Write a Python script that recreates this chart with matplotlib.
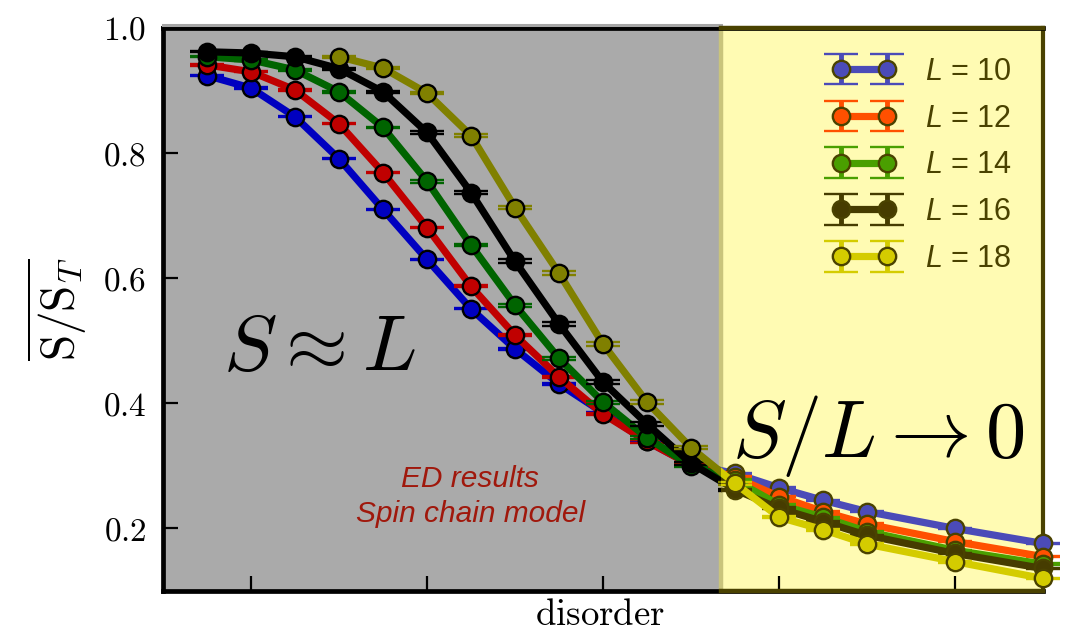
import matplotlib
matplotlib.use("Agg")
import matplotlib.pyplot as plt
from matplotlib.patches import Rectangle

# Sans italic for the legend's "L", Computer Modern requested per text where needed
plt.rcParams['mathtext.fontset'] = 'custom'
plt.rcParams['mathtext.it'] = 'Liberation Sans:italic'
plt.rcParams['mathtext.rm'] = 'Liberation Sans'
plt.rcParams['font.family'] = ['Liberation Sans', 'DejaVu Sans']

# ---- data -------------------------------------------------------------
disorder = [0.75, 1.0, 1.25, 1.5, 1.75, 2.0, 2.25, 2.5, 2.75, 3.0, 3.25, 3.5,
            3.75, 4.0, 4.25, 4.5, 5.0, 5.5]
disorder_L18 = [1.5, 1.75, 2.0, 2.25, 2.5, 2.75, 3.0, 3.25, 3.5,
                3.75, 4.0, 4.25, 4.5, 5.0, 5.5]

system_sizes = [10, 12, 14, 16, 18]

s_L10 = [0.924, 0.904, 0.858, 0.791, 0.710, 0.630, 0.551, 0.487, 0.431, 0.385,
         0.339, 0.302, 0.288, 0.265, 0.245, 0.227, 0.200, 0.176]
s_L12 = [0.941, 0.930, 0.901, 0.847, 0.769, 0.681, 0.587, 0.509, 0.442, 0.383,
         0.339, 0.301, 0.282, 0.251, 0.227, 0.207, 0.179, 0.155]
s_L14 = [0.954, 0.949, 0.933, 0.898, 0.841, 0.755, 0.653, 0.557, 0.472, 0.402,
         0.345, 0.300, 0.277, 0.238, 0.218, 0.195, 0.165, 0.143]
s_L16 = [0.962, 0.960, 0.954, 0.935, 0.898, 0.833, 0.737, 0.627, 0.527, 0.434,
         0.367, 0.304, 0.262, 0.232, 0.211, 0.189, 0.160, 0.136]
s_L18 = [0.954, 0.936, 0.896, 0.828, 0.713, 0.608, 0.495, 0.402, 0.329,
         0.272, 0.218, 0.198, 0.175, 0.147, 0.120]

err_L10 = [0.001, 0.001, 0.001, 0.001, 0.001, 0.001, 0.001, 0.0015, 0.0015, 0.0015,
           0.0015, 0.0015, 0.001, 0.001, 0.001, 0.001, 0.001, 0.001]
err_L12 = [0.001, 0.001, 0.001, 0.001, 0.001, 0.0015, 0.0015, 0.002, 0.002, 0.002,
           0.002, 0.0015, 0.0015, 0.001, 0.001, 0.001, 0.001, 0.001]
err_L14 = [0.001, 0.001, 0.001, 0.0015, 0.0015, 0.002, 0.002, 0.0025, 0.0025, 0.0025,
           0.002, 0.002, 0.0015, 0.0015, 0.001, 0.001, 0.001, 0.001]
err_L16 = [0.001, 0.001, 0.001, 0.0015, 0.002, 0.002, 0.0025, 0.003, 0.003, 0.003,
           0.0025, 0.002, 0.0015, 0.0015, 0.0015, 0.001, 0.001, 0.001]
err_L18 = [0.0015, 0.0015, 0.002, 0.0025, 0.003, 0.0035, 0.0035, 0.003, 0.0025,
           0.002, 0.0015, 0.0015, 0.0015, 0.0015, 0.0015]

series = [
    (disorder, s_L10, err_L10),
    (disorder, s_L12, err_L12),
    (disorder, s_L14, err_L14),
    (disorder, s_L16, err_L16),
    (disorder_L18, s_L18, err_L18),
]

yticks = [0.2, 0.4, 0.6, 0.8, 1.0]
ytick_labels = [r'$0.2$', r'$0.4$', r'$0.6$', r'$0.8$', r'$1.0$']
xticks = [1, 2, 3, 4, 5]

# ---- styling ----------------------------------------------------------
X_MIN, X_MAX = 0.5, 5.5
Y_MIN, Y_MAX = 0.1, 1.0
REGION_SPLIT = 3.67          # gray (thermal) | yellow (localized) panels

gray_bg = '#AAAAAA'
yellow_bg = '#FFFBB3'
olive_dark = '#4A4200'
left_colors = ['#0000C0', '#C00000', '#006400', '#000000', '#808000']
right_colors = ['#4B4BB8', '#FF5000', '#4A9F00', '#463C00', '#D4CC00']
text_red = '#A0180C'

fig = plt.figure(figsize=(10.77, 6.35), dpi=100)
ax = fig.add_axes([163 / 1077, 1 - 591 / 635, 880 / 1077, 563 / 635])
ax.set_xlim(X_MIN, X_MAX)
ax.set_ylim(Y_MIN, Y_MAX)
ax.set_facecolor(gray_bg)
ax.axvspan(REGION_SPLIT, X_MAX, color=yellow_bg, zorder=0.5, lw=0)
ax.axvline(REGION_SPLIT, color='#C9C47C', lw=3.2, zorder=0.6)

clip_left = Rectangle((X_MIN, -1), REGION_SPLIT - X_MIN, 3, transform=ax.transData)
clip_right = Rectangle((REGION_SPLIT, -1), X_MAX - REGION_SPLIT + 1, 3,
                       transform=ax.transData)


def clip_container(container, rect):
    data_line, caps, bars = container.lines
    for art in [data_line, *caps, *bars]:
        art.set_clip_path(rect)


handles = []
for i, (xs, ys, es) in enumerate(series):
    c_left = ax.errorbar(xs, ys, yerr=es, color=left_colors[i], lw=5.2,
                         marker='o', ms=12.5, mfc=left_colors[i], mec='black',
                         mew=1.7, capsize=12, capthick=1.7, elinewidth=3.5,
                         zorder=3 + i)
    clip_container(c_left, clip_left)
    c_right = ax.errorbar(xs, ys, yerr=es, color=right_colors[i], lw=5.2,
                          marker='o', ms=12.5, mfc=right_colors[i], mec=olive_dark,
                          mew=1.7, capsize=12, capthick=1.7, elinewidth=3.5,
                          zorder=3 + i, label=f'$L$ = {system_sizes[i]}')
    clip_container(c_right, clip_right)
    handles.append(c_right)

leg = ax.legend(handles=handles, loc='upper right', bbox_to_anchor=(0.965, 0.949),
                frameon=False, numpoints=2, fontsize=22, handlelength=2.1,
                handletextpad=0.95, labelspacing=0.55, borderpad=0,
                borderaxespad=0)
for t in leg.get_texts():
    t.set_color(olive_dark)

# ---- axes frame and ticks --------------------------------------------
for side in ['left', 'bottom', 'top']:
    ax.spines[side].set_linewidth(3.4)
    ax.spines[side].set_color('black')
ax.spines['right'].set_linewidth(3.0)
ax.spines['right'].set_color(olive_dark)
frac = (REGION_SPLIT - X_MIN) / (X_MAX - X_MIN)
for yy in (Y_MIN, Y_MAX):
    ax.axhline(yy, xmin=frac, xmax=1.0, color=olive_dark, lw=3.2,
               clip_on=False, zorder=10)
ax.plot([0, frac], [1.006, 1.006], transform=ax.transAxes, color='#A6A6A6',
        lw=2.2, clip_on=False, zorder=9)

ax.set_xticks(xticks)
ax.set_xticklabels([''] * len(xticks))
ax.set_yticks(yticks)
ax.set_yticklabels(ytick_labels, fontsize=24, math_fontfamily='cm')
ax.tick_params(axis='both', direction='in', length=11, width=1.6, pad=12,
               top=False, right=False)
for tick in ax.xaxis.get_major_ticks()[3:]:
    tick.tick1line.set_color(olive_dark)

ax.set_ylabel(r'$\overline{\mathrm{S}/\mathrm{S}_T}$', fontsize=34,
              math_fontfamily='cm', labelpad=9)
ax.set_xlabel(r'$\mathrm{disorder}$', fontsize=26.5, math_fontfamily='cm')
ax.xaxis.set_label_coords(0.497, -0.012)

# ---- annotations ------------------------------------------------------
ax.text(0.068, 0.392, r'$S \approx L$', transform=ax.transAxes, fontsize=57.5,
        math_fontfamily='cm', va='baseline', ha='left', zorder=2)
ax.text(0.647, 0.238, r'$S/L \rightarrow 0$', transform=ax.transAxes, fontsize=58,
        math_fontfamily='cm', va='baseline', ha='left', zorder=2)
ax.text(0.349, 0.185, 'ED results', transform=ax.transAxes, fontsize=21.5,
        style='italic', color=text_red, ha='center', va='baseline')
ax.text(0.349, 0.123, 'Spin chain model', transform=ax.transAxes, fontsize=21.5,
        style='italic', color=text_red, ha='center', va='baseline')

fig.savefig('out.png', dpi=100, facecolor='white')
